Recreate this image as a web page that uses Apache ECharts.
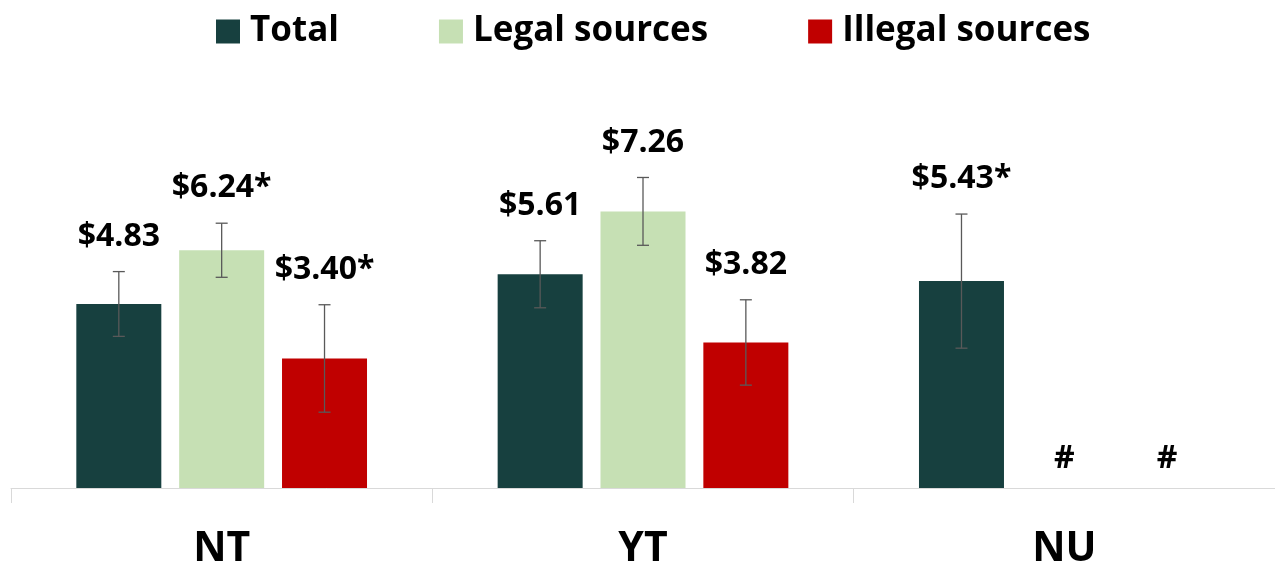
<!DOCTYPE html>
<html>
<head>
<meta charset="utf-8">
<script src="https://cdn.jsdelivr.net/npm/echarts@6/dist/echarts.min.js"></script>
<style>
html,body{margin:0;padding:0;background:#fff;}
#chart{width:1275px;height:567px;}
</style>
</head>
<body>
<div id="chart"></div>
<script>
const categories = ['NT', 'YT', 'NU'];
const seriesNames = ['Total', 'Legal sources', 'Illegal sources'];
const totalValues = [4.83, 5.61, 5.43];
const legalValues = [6.24, 7.26, null];
const illegalValues = [3.40, 3.82, null];
const totalErrors = [0.85, 0.88, 1.76];
const legalErrors = [0.71, 0.89, null];
const illegalErrors = [1.41, 1.12, null];
const totalLabels = ['$4.83', '$5.61', '$5.43*'];
const legalLabels = ['$6.24*', '$7.26', '#'];
const illegalLabels = ['$3.40*', '$3.82', '#'];

const colors = ['#17403F', '#C6E0B4', '#C00000'];
const BAR_W = 85;
const BAR_GAP = 0.21;

const valuesBySeries = [totalValues, legalValues, illegalValues];
const errorsBySeries = [totalErrors, legalErrors, illegalErrors];
const labelsBySeries = [totalLabels, legalLabels, illegalLabels];

const errRows = [];
valuesBySeries.forEach((vals, s) => {
  vals.forEach((v, c) => {
    errRows.push([c, s, v == null ? 0 : v, errorsBySeries[s][c] == null ? 0 : errorsBySeries[s][c], labelsBySeries[s][c]]);
  });
});

const FONT = '"Open Sans", "Liberation Sans", sans-serif';

const chart = echarts.init(document.getElementById('chart'), null, {renderer: 'canvas'});
chart.setOption({
  animation: false,
  color: colors,
  legend: {
    data: seriesNames,
    left: 211,
    top: 8,
    itemWidth: 24,
    itemHeight: 24,
    itemGap: 100,
    icon: 'rect',
    textStyle: {fontFamily: FONT, fontWeight: 'bold', fontSize: 35, color: '#000', lineHeight: 37, padding: [0, 0, 0, 5]}
  },
  grid: {left: 11, right: 0, top: 107, bottom: 79, containLabel: false, outerBoundsMode: 'none'},
  xAxis: {
    type: 'category',
    data: categories,
    axisLine: {lineStyle: {color: '#d9d9d9', width: 1}},
    axisTick: {show: true, length: 15, lineStyle: {color: '#d9d9d9'}},
    axisLabel: {fontFamily: FONT, fontWeight: 'bold', fontSize: 41, color: '#000', margin: 41, lineHeight: 41}
  },
  yAxis: {type: 'value', min: 0, max: 10, show: false, splitLine: {show: false}},
  series: [
    {name: seriesNames[0], type: 'bar', data: totalValues, barWidth: BAR_W, barGap: (BAR_GAP * 100) + '%', itemStyle: {color: colors[0]}},
    {name: seriesNames[1], type: 'bar', data: legalValues, barWidth: BAR_W, itemStyle: {color: colors[1]}},
    {name: seriesNames[2], type: 'bar', data: illegalValues, barWidth: BAR_W, itemStyle: {color: colors[2]}},
    {
      type: 'custom',
      data: errRows,
      z: 10,
      encode: {x: 0, y: 2},
      renderItem: function (params, api) {
        const c = api.value(0), s = api.value(1), v = api.value(2), e = api.value(3);
        const label = errRows[params.dataIndex][4];
        const center = api.coord([c, 0]);
        const step = BAR_W * (1 + BAR_GAP);
        const x = center[0] + (s - 1) * step;
        const children = [];
        let topY;
        if (e > 0) {
          const yTop = api.coord([c, v + e])[1];
          const yBot = api.coord([c, v - e])[1];
          const st = {stroke: '#595959', lineWidth: 1.3};
          children.push({type: 'line', shape: {x1: x, y1: yTop, x2: x, y2: yBot}, style: st});
          children.push({type: 'line', shape: {x1: x - 6, y1: yTop, x2: x + 6, y2: yTop}, style: st});
          children.push({type: 'line', shape: {x1: x - 6, y1: yBot, x2: x + 6, y2: yBot}, style: st});
          topY = yTop - 35;
        } else {
          topY = api.coord([c, v])[1] - 29;
        }
        children.push({
          type: 'text',
          style: {
            x: x, y: topY, text: label,
            textAlign: 'center', textVerticalAlign: 'middle',
            font: 'bold 32px ' + FONT, fill: '#000'
          }
        });
        return {type: 'group', children: children};
      }
    }
  ]
});
</script>
</body>
</html>
